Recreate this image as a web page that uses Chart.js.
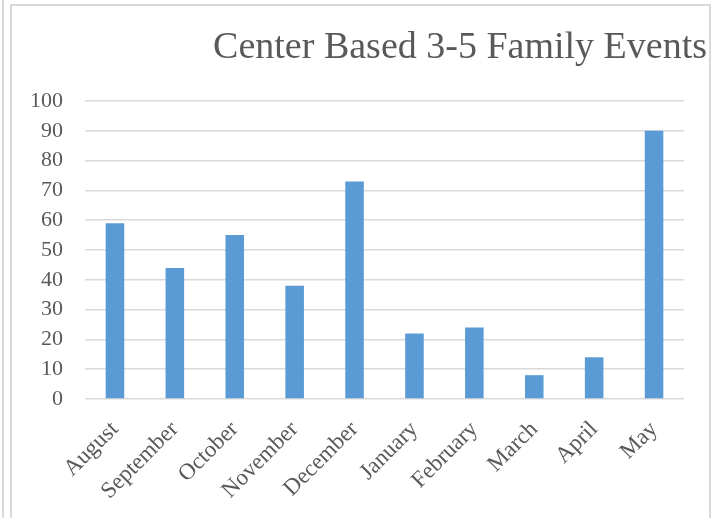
<!DOCTYPE html>
<html>
<head>
<meta charset="utf-8">
<script src="https://cdn.jsdelivr.net/npm/chart.js@4"></script>
<style>
    body { margin: 0; background: #fff; }
    #wrap { position: relative; width: 721px; height: 518px; overflow: hidden; }
    #edge { position: absolute; left: 2px; top: 0; width: 2px; height: 518px; background: #d9d9d9; }
    #frame { position: absolute; left: 10px; top: 4px; width: 701px; height: 600px; border: 2px solid #d9d9d9; box-sizing: border-box; }
    #myChart { position: absolute; left: 0; top: 0; }
</style>
</head>
<body>
<div id="wrap">
    <div id="edge"></div>
    <div id="frame"></div>
    <canvas id="myChart" width="721" height="518"></canvas>
</div>
<script>
// Chart data
var chartTitle = "Center Based 3-5 Family Events";
var months = ["August", "September", "October", "November", "December", "January", "February", "March", "April", "May"];
var eventCounts = [59, 44, 55, 38, 73, 22, 24, 8, 14, 90];
var yTicks = [0, 10, 20, 30, 40, 50, 60, 70, 80, 90, 100];

var serif = "'Liberation Serif', 'Times New Roman', serif";

// Title drawn right aligned like the original
var titlePlugin = {
    id: 'rightTitle',
    afterDraw: function (chart) {
        var ctx = chart.ctx;
        ctx.save();
        ctx.font = "38px " + serif;
        ctx.fillStyle = '#595959';
        ctx.textAlign = 'right';
        ctx.textBaseline = 'alphabetic';
        ctx.fillText(chartTitle, 707, 58);
        ctx.restore();
    }
};

var chartConfig = {
    type: 'bar',
    data: {
        labels: months,
        datasets: [{
            label: chartTitle,
            data: eventCounts,
            backgroundColor: '#5B9BD5',
            borderWidth: 0,
            categoryPercentage: 1,
            barPercentage: 0.31
        }]
    },
    options: {
        responsive: false,
        animation: false,
        layout: { padding: { top: 101, right: 37, left: 0, bottom: 0 } },
        plugins: {
            legend: { display: false },
            title: { display: false },
            tooltip: { enabled: false }
        },
        scales: {
            x: {
                grid: { display: false },
                border: { display: false },
                ticks: {
                    color: '#595959',
                    font: { family: serif, size: 23 },
                    maxRotation: 45,
                    minRotation: 45,
                    padding: 9,
                    autoSkip: false
                },
                afterFit: function (scale) { scale.height = 119; }
            },
            y: {
                min: 0,
                max: 100,
                afterBuildTicks: function (scale) {
                    scale.ticks = yTicks.map(function (v) { return { value: v }; });
                },
                grid: { color: '#d9d9d9', lineWidth: 1.5, drawTicks: false },
                border: { display: false },
                ticks: {
                    color: '#595959',
                    font: { family: serif, size: 22 },
                    padding: 22
                },
                afterFit: function (scale) { scale.width = 85; }
            }
        }
    },
    plugins: [titlePlugin]
};

var myChart = new Chart(document.getElementById('myChart'), chartConfig);
</script>
</body>
</html>
